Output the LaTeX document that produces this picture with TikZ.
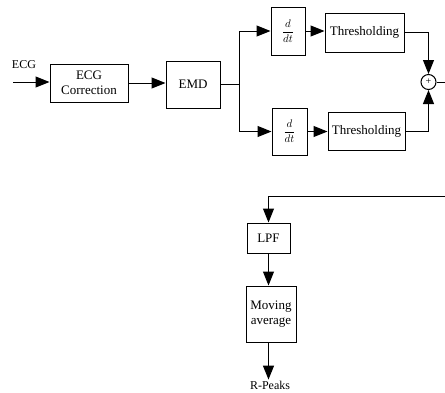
\documentclass[tikz,border=0pt]{standalone}
\usepackage{fontspec}
\setmainfont{Liberation Serif}
\usetikzlibrary{arrows.meta}
\begin{document}
\begin{tikzpicture}[x=1pt,y=-1pt,
  blk/.style={draw,line width=1pt,inner sep=0pt,align=center,font=\fontsize{13}{15}\selectfont},
  arr/.style={line width=1pt,-{Triangle[length=14pt,width=11pt]}},
  ln/.style={line width=1pt}]
\useasboundingbox (0,0) rectangle (445,392);
\node[blk,minimum width=78pt,minimum height=38pt] (corr) at (89,83) {ECG\\Correction};
\node[blk,minimum width=54pt,minimum height=47pt] (emd) at (193,84.5) {EMD};
\node[blk,minimum width=34pt,minimum height=48pt,font=\fontsize{11}{13}\selectfont] (d1) at (288,31) {$\displaystyle\frac{d}{dt}$};
\node[blk,minimum width=79pt,minimum height=39pt] (t1) at (364.5,32.5) {Thresholding};
\node[blk,minimum width=35pt,minimum height=47pt,font=\fontsize{11}{13}\selectfont] (d2) at (289.5,131.5) {$\displaystyle\frac{d}{dt}$};
\node[blk,minimum width=77pt,minimum height=38pt] (t2) at (366.5,131) {Thresholding};
\node[draw,circle,line width=1pt,minimum size=15pt,inner sep=0pt,font=\fontsize{10}{10}\selectfont] (sum) at (428.5,82) {+};
\node[blk,minimum width=43pt,minimum height=30pt] (lpf) at (268.5,238) {LPF};
\node[blk,minimum width=50pt,minimum height=56pt] (ma) at (271,314) {Moving\\average};
\node[font=\fontsize{12}{14}\selectfont] (ecg) at (24,65) {ECG};
\node[font=\fontsize{12}{14}\selectfont,inner sep=1pt] (rp) at (270,385) {R-Peaks};
\coordinate (in) at (13,82);
\coordinate (br) at (239,84);
\coordinate (out) at (446,82);
\coordinate (ret) at (446,196);
\draw[arr] (in) -- (in -| corr.west);
\draw[arr] (corr.east) -- (corr.east -| emd.west);
\draw[ln] (emd.east |- br) -- (br);
\draw[arr] (br) |- (d1.west);
\draw[arr] (br) |- (d2.west);
\draw[arr] (d1.east) -- (d1.east -| t1.west);
\draw[arr] (d2.east) -- (d2.east -| t2.west);
\draw[arr] (t1.east) -| (sum.north);
\draw[arr] (t2.east) -| (sum.south);
\draw[ln] (sum.east) -- (out);
\draw[arr] (ret) -| (lpf.north);
\draw[arr] (lpf.south) -- (lpf.south |- ma.north);
\draw[arr] (ma.south -| lpf.south) -- (rp.north -| lpf.south);
\end{tikzpicture}
\end{document}
